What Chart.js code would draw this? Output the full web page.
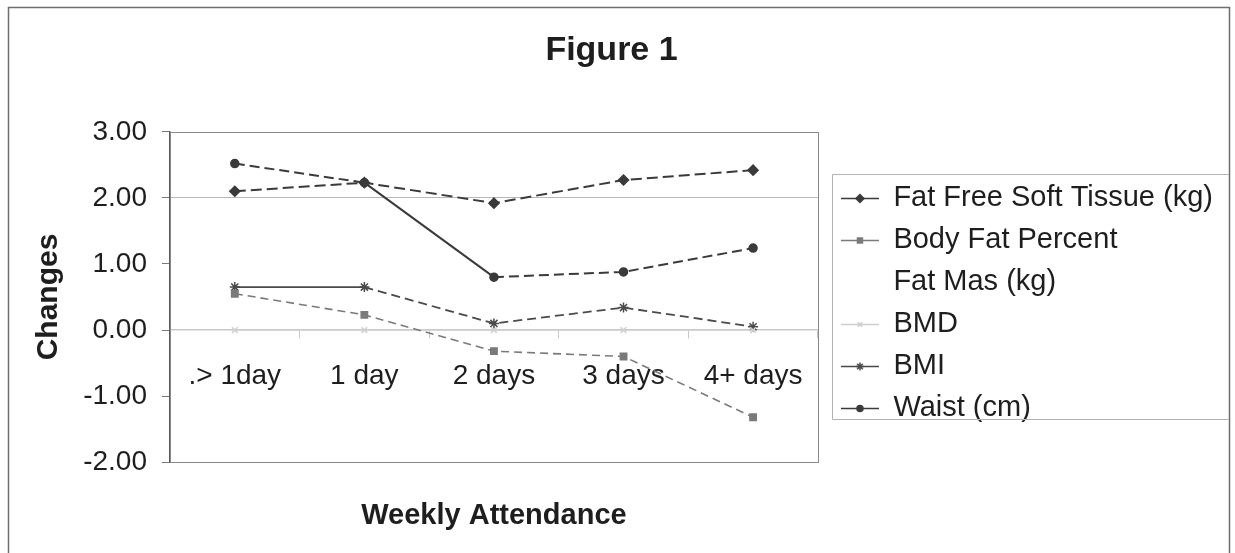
<!DOCTYPE html>
<html>
<head>
<meta charset="utf-8">
<title>Figure 1</title>
<script src="https://cdn.jsdelivr.net/npm/chart.js@4.4.1/dist/chart.umd.min.js"></script>
<style>
  html, body { margin: 0; padding: 0; background: #ffffff; }
  #wrap { position: relative; width: 1235px; height: 553px; }
</style>
</head>
<body>
<div id="wrap"><canvas id="chart"></canvas></div>
<script>
// Weekly attendance groups on the category axis
const categories = ['.> 1day', '1 day', '2 days', '3 days', '4+ days'];

// Mean change per attendance group
const fatFreeSoftTissue = [2.10, 2.23, 1.92, 2.27, 2.42];
const bodyFatPercent    = [0.55, 0.23, -0.32, -0.40, -1.32];
const fatMass           = [null, null, null, null, null];
const bmd               = [0.00, 0.00, 0.00, 0.00, 0.00];
const bmi               = [0.65, 0.65, 0.10, 0.34, 0.05];
const waist             = [2.52, 2.23, 0.80, 0.88, 1.24];

// Value axis ticks
const yTicks = [-2, -1, 0, 1, 2, 3];

const FONT = "'Liberation Sans', Arial, Helvetica, sans-serif";
const INK = '#1e1e1e';

// Segments drawn with an unbroken stroke (index of the segment's first point)
const solidSegments = {
  'Waist (cm)': [1],
  'BMI': [0]
};

function series(label, data, color, pointStyle, radius, dash, width) {
  return {
    label: label,
    data: data,
    borderColor: color,
    backgroundColor: color,
    pointBackgroundColor: color,
    pointBorderColor: color,
    pointStyle: pointStyle,
    pointRadius: radius,
    pointBorderWidth: 1.5,
    borderWidth: width,
    borderDash: dash,
    tension: 0,
    spanGaps: false,
    segment: {
      borderDash: function (ctx) {
        const list = solidSegments[label] || [];
        return list.indexOf(ctx.p0DataIndex) >= 0 ? [] : undefined;
      }
    }
  };
}

const datasets = [
  series('Fat Free Soft Tissue (kg)', fatFreeSoftTissue, '#3a3a3a', 'rectRot', 5, [11, 5], 2),
  series('Body Fat Percent', bodyFatPercent, '#7a7a7a', 'rect', 4.5, [8, 5], 1.6),
  series('Fat Mas (kg)', fatMass, 'rgba(255,255,255,0)', 'triangle', 0, [], 1),
  series('BMD', bmd, '#cfcfcf', 'crossRot', 4, [], 1.5),
  series('BMI', bmi, '#4a4a4a', 'star', 5, [9, 5], 1.8),
  series('Waist (cm)', waist, '#3a3a3a', 'circle', 4, [10, 5], 2)
];

// Legend sample: short line with the series marker in the middle
function legendSample(ds) {
  const c = document.createElement('canvas');
  c.width = 48; c.height = 20;
  const g = c.getContext('2d');
  if (ds.pointRadius > 0) {
    g.strokeStyle = ds.borderColor;
    g.lineWidth = 1.6;
    g.beginPath();
    g.moveTo(10, 10.5);
    g.lineTo(48, 10.5);
    g.stroke();
    g.fillStyle = ds.pointBackgroundColor;
    g.strokeStyle = ds.pointBorderColor;
    g.lineWidth = 1.5;
    Chart.helpers.drawPoint(g, {
      pointStyle: ds.pointStyle,
      radius: Math.max(3, ds.pointRadius - 1),
      rotation: 0,
      borderWidth: 1.5
    }, 29, 10.5);
  }
  return c;
}

// Outer frame of the figure, plot-area rectangle and legend border
const framePlugin = {
  id: 'frame',
  beforeDraw(chart) {
    const g = chart.ctx;
    g.save();
    g.fillStyle = '#ffffff';
    g.fillRect(0, 0, chart.width, chart.height);
    g.strokeStyle = '#6e6e6e';
    g.lineWidth = 1.5;
    g.beginPath();
    g.moveTo(8.5, chart.height);
    g.lineTo(8.5, 7.5);
    g.lineTo(1229.5, 7.5);
    g.lineTo(1229.5, chart.height);
    g.stroke();
    g.restore();
  },
  afterDraw(chart) {
    const a = chart.chartArea;
    const g = chart.ctx;
    g.save();
    g.strokeStyle = '#8a8a8a';
    g.lineWidth = 1;
    g.strokeRect(Math.round(a.left) + 0.5, Math.round(a.top) + 0.5,
                 Math.round(a.right - a.left), Math.round(a.bottom - a.top));
    const boxes = chart.legend.legendHitBoxes;
    if (boxes && boxes.length) {
      const left = Math.min.apply(null, boxes.map(b => b.left)) + 1;
      const top = boxes[0].top - 10;
      const last = boxes[boxes.length - 1];
      const bottom = last.top + last.height - 4;
      g.strokeStyle = '#b4b4b4';
      g.beginPath();
      g.moveTo(1229, Math.round(top) + 0.5);
      g.lineTo(Math.round(left) + 0.5, Math.round(top) + 0.5);
      g.lineTo(Math.round(left) + 0.5, Math.round(bottom) + 0.5);
      g.lineTo(1229, Math.round(bottom) + 0.5);
      g.stroke();
    }
    g.restore();
  }
};

new Chart(document.getElementById('chart'), {
  type: 'line',
  data: { labels: categories, datasets: datasets },
  plugins: [framePlugin],
  options: {
    responsive: true,
    maintainAspectRatio: false,
    animation: false,
    devicePixelRatio: 1,
    layout: { padding: { left: 0, right: 12, top: 0, bottom: 0 } },
    plugins: {
      title: {
        display: true,
        text: 'Figure 1',
        color: INK,
        font: { family: FONT, size: 34, weight: 'bold' },
        padding: { top: 30, bottom: 61 }
      },
      subtitle: {
        display: true,
        text: 'Weekly Attendance',
        position: 'bottom',
        fullSize: false,
        color: INK,
        font: { family: FONT, size: 29, weight: 'bold' },
        padding: { top: 36, bottom: 20 }
      },
      legend: {
        display: true,
        position: 'right',
        fullSize: false,
        align: 'center',
        maxWidth: 420,
        title: {
          display: true,
          text: '',
          font: { family: FONT, size: 5 },
          padding: { top: 6, bottom: 0 }
        },
        labels: {
          color: INK,
          font: { family: FONT, size: 29 },
          usePointStyle: true,
          pointStyleWidth: 48,
          padding: 13,
          generateLabels(chart) {
            const items = Chart.defaults.plugins.legend.labels.generateLabels(chart);
            return items.map(it => {
              it.pointStyle = legendSample(chart.data.datasets[it.datasetIndex]);
              return it;
            });
          }
        }
      },
      tooltip: { enabled: false }
    },
    scales: {
      x: {
        type: 'category',
        position: { y: 0 },
        offset: true,
        border: { display: true, color: '#c8c8c8', width: 1.5 },
        grid: {
          offset: true,
          drawOnChartArea: false,
          drawTicks: true,
          tickLength: 8,
          tickColor: '#c8c8c8'
        },
        ticks: {
          color: INK,
          font: { family: FONT, size: 28 },
          padding: 21,
          maxRotation: 0,
          autoSkip: false
        }
      },
      y: {
        type: 'linear',
        position: 'left',
        min: yTicks[0],
        max: yTicks[yTicks.length - 1],
        afterBuildTicks(scale) {
          scale.ticks = yTicks.map(v => ({ value: v }));
        },
        afterFit(scale) { scale.width = 170; },
        border: { display: true, color: '#5a5a5a', width: 1.5 },
        grid: {
          color: ctx => (ctx.tick && ctx.tick.value === 2 ? '#b8b8b8' : 'rgba(0,0,0,0)'),
          tickColor: '#7a7a7a',
          tickLength: 8,
          drawTicks: true
        },
        ticks: {
          color: INK,
          font: { family: FONT, size: 28 },
          padding: 15,
          callback: v => Number(v).toFixed(2)
        },
        title: {
          display: true,
          text: 'Changes',
          color: INK,
          font: { family: FONT, size: 30, weight: 'bold' },
          padding: { top: 31, bottom: 0 }
        }
      }
    }
  }
});
</script>
</body>
</html>
